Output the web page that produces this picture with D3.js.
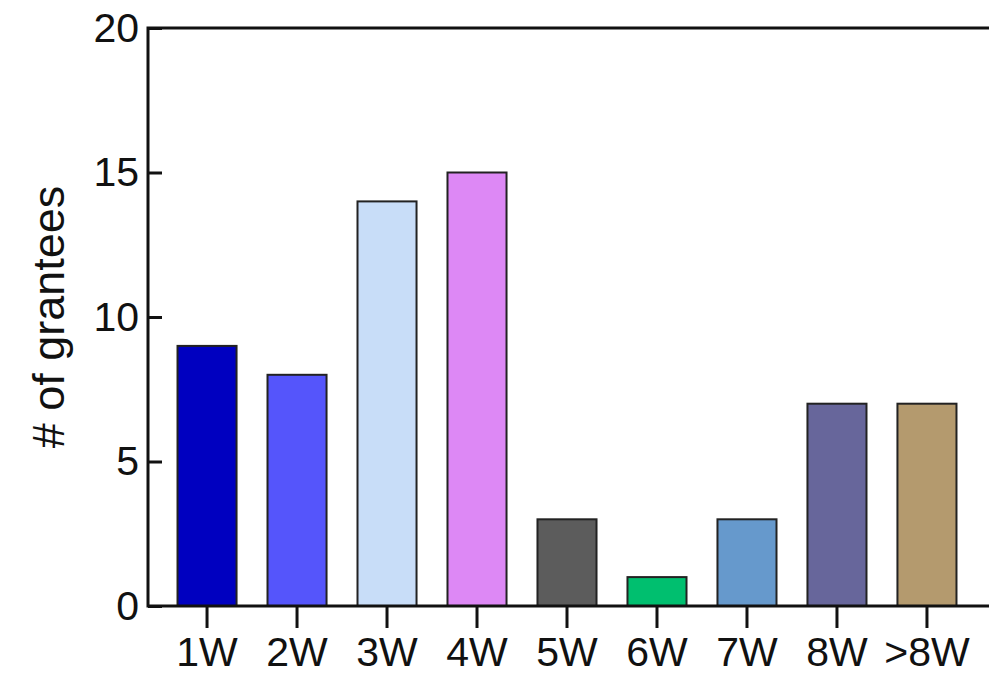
<!DOCTYPE html>
<html>
<head>
<meta charset="utf-8">
<script src="https://cdn.jsdelivr.net/npm/d3@7"></script>
<style>
	body { margin: 0; background: #fff; }
	svg { display: block; font-family: Arial, "Liberation Sans", sans-serif; }
</style>
</head>
<body>
<div id="chart"></div>
<script>
	"use strict";

	var categories = ['1W', '2W', '3W', '4W', '5W', '6W', '7W', '8W', '>8W'];
	var grantees = [9, 8, 14, 15, 3, 1, 3, 7, 7];
	var barColors = ['#0000c0', '#5555fb', '#c8ddf8', '#dd88f5', '#5c5c5c', '#00bf6f', '#6699cc', '#67669b', '#b49a6e'];
	var yTicks = [0, 5, 10, 15, 20];

	var chartWidth = 989, chartHeight = 675;
	var plotLeft = 148, plotTop = 28, plotBottom = 606;

	var svg = d3.select('#chart').append('svg')
		.attr('width', chartWidth)
		.attr('height', chartHeight);

	var x = d3.scaleBand()
		.domain(categories)
		.range([plotLeft, 986])
		.paddingInner(0.344)
		.paddingOuter(0.328);

	var y = d3.scaleLinear()
		.domain([0, 20])
		.range([plotBottom, plotTop]);

	// bars
	svg.append('g')
		.selectAll('rect')
		.data(categories)
		.join('rect')
			.attr('x', function(d) { return x(d); })
			.attr('y', function(d, i) { return y(grantees[i]); })
			.attr('width', x.bandwidth())
			.attr('height', function(d, i) { return y(0) - y(grantees[i]); })
			.attr('fill', function(d, i) { return barColors[i]; })
			.attr('stroke', '#222')
			.attr('stroke-width', 2);

	// y axis, ticks pointing inward
	var yAxis = svg.append('g')
		.attr('transform', 'translate(' + plotLeft + ',0)')
		.call(d3.axisRight(y).tickValues(yTicks).tickSize(14).tickSizeOuter(0).tickFormat(d3.format('d')));
	yAxis.select('.domain').remove();
	yAxis.selectAll('.tick line').attr('stroke', '#111').attr('stroke-width', 3);
	yAxis.selectAll('.tick text')
		.attr('x', -9)
		.attr('text-anchor', 'end')
		.attr('font-size', 41)
		.attr('fill', '#111');

	// x axis
	var xAxis = svg.append('g')
		.attr('transform', 'translate(0,' + plotBottom + ')')
		.call(d3.axisBottom(x).tickSize(22).tickSizeOuter(0));
	xAxis.select('.domain').remove();
	xAxis.selectAll('.tick line').attr('stroke', '#111').attr('stroke-width', 3);
	xAxis.selectAll('.tick text')
		.attr('y', 31)
		.attr('font-size', 41)
		.attr('fill', '#111');

	// frame lines: top, left, bottom
	svg.append('path')
		.attr('d', 'M' + chartWidth + ',' + y(20) + 'H' + plotLeft + 'V' + y(0) + 'H' + chartWidth)
		.attr('stroke', '#111')
		.attr('stroke-width', 3)
		.attr('fill', 'none');

	svg.append('text')
		.attr('transform', 'translate(64,' + ((plotTop + plotBottom) / 2) + ') rotate(-90)')
		.attr('text-anchor', 'middle')
		.attr('font-size', 45)
		.attr('fill', '#111')
		.text('# of grantees');
</script>
</body>
</html>
